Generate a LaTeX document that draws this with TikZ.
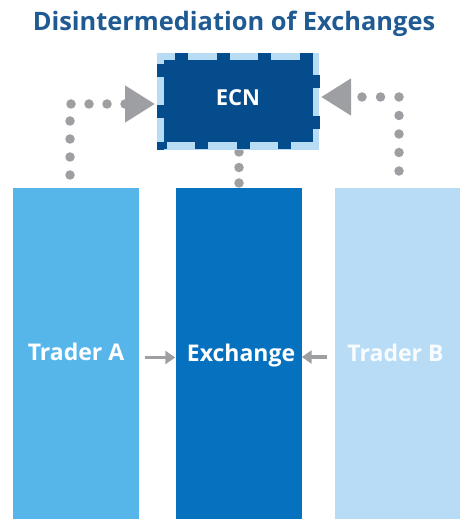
\documentclass[tikz,border=0pt]{standalone}
\usepackage{fontspec}
\setmainfont{Open Sans}
\usetikzlibrary{arrows.meta}
\definecolor{titleblue}{HTML}{1F5A93}
\definecolor{ecnblue}{HTML}{054C8C}
\definecolor{ecnlight}{HTML}{B9DCF5}
\definecolor{traderblue}{HTML}{56B6EA}
\definecolor{exchblue}{HTML}{0671BE}
\definecolor{paleblue}{HTML}{B8DCF5}
\definecolor{dotgrey}{HTML}{9E9FA2}
\tikzset{
    column/.style={minimum width=126pt,minimum height=331pt,inner sep=0pt},
    columntext/.style={anchor=base,inner sep=0pt,text=white,font=\fontsize{23}{27}\selectfont\bfseries},
    dotline/.style={dotgrey,line width=9.5pt,line cap=round,dash pattern=on 0pt off 18pt},
    bigtip/.style={-{Triangle[length=30pt,width=35pt]}},
    smallarrow/.style={dotgrey,line width=3.5pt,-{Triangle[length=10pt,width=13pt]}},
    ecnedge/.style={ecnblue,line width=7pt,dash pattern=on 13pt off 28.5pt}
}
\begin{document}
\begin{tikzpicture}[x=1pt,y=-1pt]
    \useasboundingbox (0,0) rectangle (459,521);
    \node[text=titleblue,font=\fontsize{25.4}{30}\selectfont\bfseries] (title) at (234,24) {Disintermediation of Exchanges};
    \node[column,fill=traderblue] (traderA) at (76,353.5) {};
    \node[column,fill=exchblue] (exchange) at (238.5,353.5) {};
    \node[column,fill=paleblue] (traderB) at (398,353.5) {};
    \node[columntext] (labelA) at (76,360) {Trader A};
    \node[columntext] (labelX) at (241,361) {Exchange};
    \node[columntext,text=white!92!paleblue] (labelB) at (395.5,361) {Trader B};
    % dotted links
    \coordinate (leftA) at (70,175);
    \coordinate (cornerA) at (70,104);
    \coordinate (leftin) at (155,104);
    \coordinate (rightB) at (399,171);
    \coordinate (cornerB) at (399,97);
    \coordinate (rightin) at (321,97);
    \coordinate (midtop) at (239,150);
    \coordinate (midbot) at (239,183);
    \draw[dotline,bigtip] (leftA) -- (cornerA) -- (leftin);
    \draw[dotline,bigtip,dash pattern=on 0pt off 18.5pt] (rightB) -- (cornerB) -- (rightin);
    \draw[dotline,dash pattern=on 0pt off 15.5pt] (midbot) -- (midtop);
    % ecn box
    \node[fill=ecnlight,minimum width=162pt,minimum height=97pt,inner sep=0pt] (ecnback) at (238,101.5) {};
    \fill[ecnblue] (164,60) rectangle (313,142);
    \draw[ecnedge] (160.5,64) -- (160.5,150);
    \draw[ecnedge] (175,56.5) -- (319,56.5);
    \draw[ecnedge] (316,75) -- (316,150);
    \draw[ecnedge,dash phase=3.5pt] (157,146) -- (319,146);
    \node[text=white,font=\fontsize{22}{26}\selectfont\bfseries] (ecn) at (238,98) {ECN};
    % small arrows
    \coordinate (smallA) at (145,357.5);
    \coordinate (smallB) at (327,357);
    \draw[smallarrow] (smallA) -- (exchange.west |- smallA);
    \draw[smallarrow] (smallB) -- (exchange.east |- smallB);
\end{tikzpicture}
\end{document}
